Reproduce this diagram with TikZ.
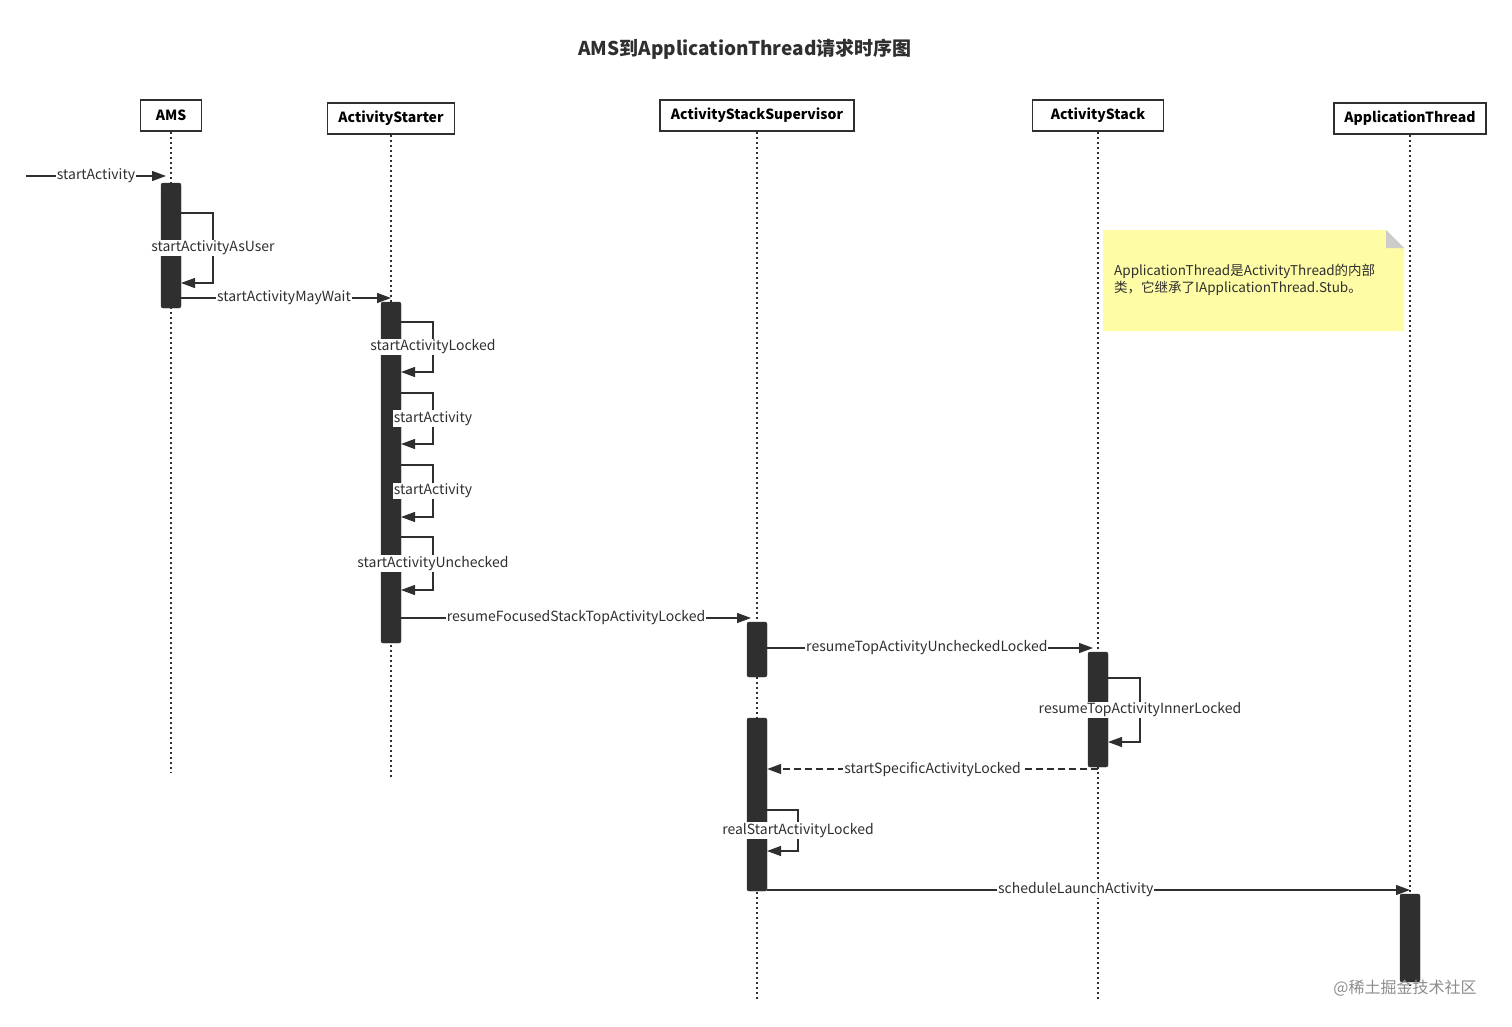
\documentclass[tikz,border=0pt]{standalone}
\usepackage{fontspec}
\setmainfont{Noto Sans CJK SC}
\usetikzlibrary{arrows.meta}
\definecolor{dk}{HTML}{2F2F2F}
\definecolor{notey}{HTML}{FFFCA6}
\tikzset{
 hdr/.style={draw=dk,line width=1.5pt,fill=white,inner sep=0pt,font=\fontsize{14}{16}\selectfont\bfseries},
 life/.style={dk,line width=1.6pt,dash pattern=on 2pt off 3pt},
 act/.style={fill=dk,draw=dk,rounded corners=2pt},
 msg/.style={dk,line width=1.3pt,-{Triangle[length=14pt,width=10pt]}},
 lbl/.style={fill=white,inner sep=1pt,text=dk,font=\fontsize{14}{16}\selectfont},
}
\newcommand{\selfloop}[5]{%
 \draw[msg] (#1,#2) -- (#3,#2) -- (#3,#4) -- (#1,#4);
 \node[lbl] at (#3,{(#2+#4)/2}) {#5};}
\begin{document}
\begin{tikzpicture}[x=1pt,y=-1pt]
\useasboundingbox (0,0) rectangle (1512,1026);
\node[font=\fontsize{19}{22}\selectfont\bfseries,text=dk] (title) at (745,49) {AMS到ApplicationThread请求时序图};
% headers
\node[hdr,minimum width=61pt,minimum height=31pt] (ams) at (171,115.5) {AMS};
\node[hdr,minimum width=127pt,minimum height=31pt] (as) at (391,118.5) {ActivityStarter};
\node[hdr,minimum width=194pt,minimum height=31pt] (ass) at (757,115.5) {ActivityStackSupervisor};
\node[hdr,minimum width=131pt,minimum height=31pt] (stk) at (1098,115.5) {ActivityStack};
\node[hdr,minimum width=152pt,minimum height=31pt] (apt) at (1410,118.5) {ApplicationThread};
% lifelines
\coordinate (amsE) at (171,773);
\coordinate (asE) at (391,777);
\coordinate (assE) at (757,1000);
\coordinate (stkE) at (1098,1000);
\coordinate (aptE) at (1410,985);
\draw[life] (ams.south) -- (amsE);
\draw[life] (as.south) -- (asE);
\draw[life] (ass.south) -- (assE);
\draw[life] (stk.south) -- (stkE);
\draw[life] (apt.south) -- (aptE);
% note
\fill[notey] (1103,230) -- (1386,230) -- (1404,248) -- (1404,331) -- (1103,331) -- cycle;
\fill[black!20] (1386,230) -- (1404,248) -- (1386,248) -- cycle;
\node[anchor=north west,align=left,inner sep=0pt,text=dk,font=\fontsize{13.5}{17}\selectfont] (note) at (1114,264) {ApplicationThread是ActivityThread的内部\\类，它继承了IApplicationThread.Stub。};
% activations
\node[act,minimum width=20pt,minimum height=125pt,inner sep=0pt] (a1) at (171,245.5) {};
\node[act,minimum width=20pt,minimum height=341pt,inner sep=0pt] (a2) at (391,472.5) {};
\node[act,minimum width=20pt,minimum height=55pt,inner sep=0pt] (a3) at (757,649.5) {};
\node[act,minimum width=20pt,minimum height=115pt,inner sep=0pt] (a4) at (1098,709.5) {};
\node[act,minimum width=20pt,minimum height=173pt,inner sep=0pt] (a5) at (757,804.5) {};
\node[act,minimum width=20pt,minimum height=88pt,inner sep=0pt] (a6) at (1410,938) {};
% incoming
\coordinate (src) at (26,176);
\draw[msg] (src) -- (166,176) node[lbl,pos=0.5] {startActivity};
% self loops
\selfloop{181}{213}{213}{283}{startActivityAsUser}
\selfloop{401}{322}{433}{372}{startActivityLocked}
\selfloop{401}{393}{433}{444}{startActivity}
\selfloop{401}{465}{433}{517}{startActivity}
\selfloop{401}{537}{433}{590}{startActivityUnchecked}
\selfloop{1108}{678}{1140}{742}{resumeTopActivityInnerLocked}
\selfloop{767}{810}{798}{851}{realStartActivityLocked}
% messages
\draw[msg] (a1.east |- 0,298) -- (391,298) node[lbl,pos=0.49] {startActivityMayWait};
\draw[msg] (a2.east |- 0,618) -- (751,618) node[lbl,pos=0.5] {resumeFocusedStackTopActivityLocked};
\draw[msg] (a3.east |- 0,648) -- (1093,648) node[lbl,pos=0.49] {resumeTopActivityUncheckedLocked};
\draw[msg,dashed,dash pattern=on 7pt off 4pt] (1098,769) -- (a5.east |- 0,769) node[lbl,pos=0.5] {startSpecificActivityLocked};
\draw[msg] (a5.east |- 0,890) -- (1410,890) node[lbl,pos=0.48] {scheduleLaunchActivity};
\node[text=black!45,font=\fontsize{16}{18}\selectfont] (wm) at (1405,988) {@稀土掘金技术社区};
\end{tikzpicture}
\end{document}
